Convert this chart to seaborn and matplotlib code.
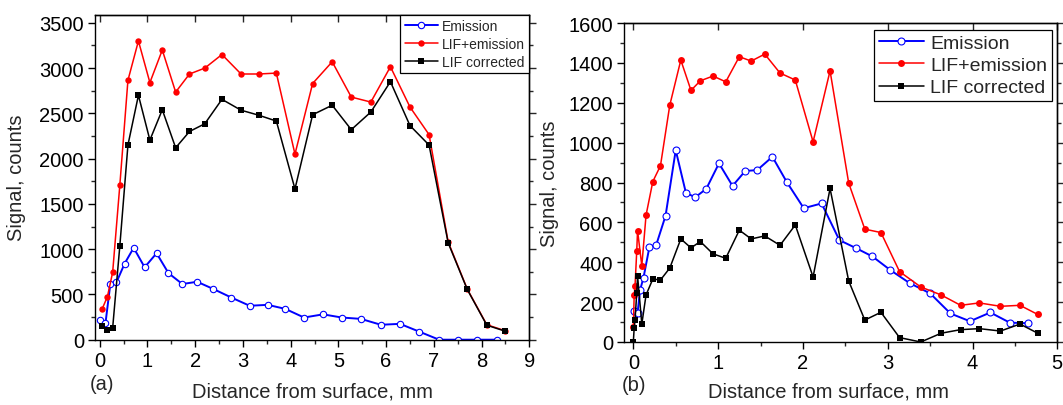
import seaborn as sns
import matplotlib.pyplot as plt
from matplotlib.ticker import MultipleLocator

# ---- panel (a) ----
x_a_lif = [0.05, 0.16, 0.27, 0.42, 0.59, 0.81, 1.05, 1.31, 1.59, 1.88, 2.20, 2.56, 2.96, 3.33,
           3.70, 4.09, 4.46, 4.87, 5.27, 5.68, 6.09, 6.50, 6.90, 7.30, 7.70, 8.11, 8.49]
lif_em_a = [340, 475, 745, 1705, 2865, 3300, 2840, 3200, 2735, 2935, 3000, 3150, 2935, 2935,
            2945, 2050, 2830, 3070, 2680, 2625, 3015, 2570, 2265, 1080, 560, 165, 100]
lif_cor_a = [155, 110, 130, 1035, 2150, 2700, 2205, 2540, 2120, 2300, 2385, 2655, 2535, 2480,
             2415, 1665, 2485, 2590, 2320, 2515, 2850, 2365, 2150, 1070, 555, 160, 95]
x_a_em = [0.01, 0.12, 0.22, 0.35, 0.52, 0.71, 0.94, 1.19, 1.44, 1.73, 2.04, 2.38, 2.76, 3.14,
          3.52, 3.89, 4.28, 4.68, 5.07, 5.47, 5.89, 6.29, 6.69, 7.11, 7.51, 7.91, 8.32]
em_a = [220, 185, 610, 635, 840, 1015, 800, 955, 735, 615, 640, 560, 465, 375,
        385, 340, 245, 280, 245, 230, 165, 175, 90, 0, 0, 0, 0]

# ---- panel (b) ----
x_b_lif = [0.00, 0.01, 0.02, 0.04, 0.05, 0.10, 0.15, 0.23, 0.32, 0.43, 0.56, 0.68, 0.79, 0.94,
           1.09, 1.25, 1.39, 1.55, 1.73, 1.91, 2.12, 2.32, 2.54, 2.73, 2.92, 3.14, 3.39, 3.63,
           3.86, 4.08, 4.33, 4.56, 4.77]
lif_em_b = [77, 234, 281, 454, 559, 382, 636, 805, 884, 1188, 1414, 1262, 1310, 1334,
            1305, 1431, 1409, 1444, 1349, 1314, 1004, 1360, 797, 566, 549, 353, 276, 236,
            184, 196, 179, 184, 138]
lif_cor_b = [0, 70, 110, 244, 331, 90, 236, 316, 311, 371, 517, 472, 504, 442,
             420, 561, 517, 532, 485, 587, 326, 770, 306, 110, 149, 22, 0, 44,
             62, 67, 55, 90, 44]
x_b_em = [0.01, 0.05, 0.08, 0.12, 0.19, 0.27, 0.38, 0.50, 0.62, 0.73, 0.86, 1.01, 1.17, 1.32,
          1.46, 1.64, 1.81, 2.01, 2.22, 2.43, 2.63, 2.82, 3.03, 3.26, 3.50, 3.74, 3.97, 4.21,
          4.44, 4.66]
em_b = [154, 147, 261, 323, 477, 487, 633, 962, 748, 726, 768, 896, 783, 858,
        862, 929, 802, 671, 695, 511, 470, 429, 361, 295, 244, 143, 104, 148,
        97, 94]

labels = ["Emission", "LIF+emission", "LIF corrected"]

sns.set_style("ticks")
plt.rcParams['font.family'] = ['Liberation Sans', 'DejaVu Sans']
plt.rcParams['axes.linewidth'] = 1.0

fig = plt.figure(figsize=(10.63, 4.06), dpi=100)
ax1 = fig.add_axes([95 / 1063, 65.3 / 406, 434.3 / 1063, 325 / 406])
ax2 = fig.add_axes([624 / 1063, 63 / 406, 433.3 / 1063, 319 / 406])


def draw(ax, xe, ye, xl, yl, yc, ms):
    sns.lineplot(x=xe, y=ye, ax=ax, color="#0000ff", lw=1.4, marker="o", ms=ms,
                 markerfacecolor="white", markeredgecolor="#0000ff", markeredgewidth=0.8,
                 estimator=None, sort=False, label=labels[0])
    sns.lineplot(x=xl, y=yl, ax=ax, color="#ff0000", lw=1.1, marker="o", ms=ms,
                 markeredgewidth=0, estimator=None, sort=False, label=labels[1])
    sns.lineplot(x=xl, y=yc, ax=ax, color="black", lw=1.1, marker="s", ms=ms - 0.3,
                 markeredgewidth=0, estimator=None, sort=False, label=labels[2])


draw(ax1, x_a_em, em_a, x_a_lif, lif_em_a, lif_cor_a, 4.6)
draw(ax2, x_b_em, em_b, x_b_lif, lif_em_b, lif_cor_b, 5.0)

ax1.set_xlim(-0.1, 9)
ax1.set_ylim(0, 3590)
ax1.xaxis.set_major_locator(MultipleLocator(1))
ax1.xaxis.set_minor_locator(MultipleLocator(0.5))
ax1.yaxis.set_major_locator(MultipleLocator(500))
ax1.yaxis.set_minor_locator(MultipleLocator(250))

ax2.set_xlim(-0.11, 5)
ax2.set_ylim(0, 1600)
ax2.xaxis.set_major_locator(MultipleLocator(1))
ax2.xaxis.set_minor_locator(MultipleLocator(0.5))
ax2.yaxis.set_major_locator(MultipleLocator(200))
ax2.yaxis.set_minor_locator(MultipleLocator(100))

for ax, ystep in [(ax1, 500), (ax2, 200)]:
    for s in ax.spines.values():
        s.set_visible(True)
        s.set_color("black")
    ax.tick_params(which="major", direction="out", length=5, width=1.0,
                   labelsize=14.5, colors="black", pad=3)
    ax.tick_params(which="minor", direction="out", length=3, width=1.0)
    top = ax.secondary_xaxis("top")
    top.xaxis.set_major_locator(MultipleLocator(1))
    top.tick_params(direction="in", length=5, width=1.0, labeltop=False)
    right = ax.secondary_yaxis("right")
    right.yaxis.set_major_locator(MultipleLocator(ystep))
    right.yaxis.set_minor_locator(MultipleLocator(ystep / 2))
    right.tick_params(which="major", direction="out", length=5, width=1.0, labelright=False)
    right.tick_params(which="minor", direction="out", length=3, width=1.0)
    ax.set_xlabel("Distance from surface, mm", fontsize=14.5, va="top")
    ax.set_ylabel("Signal, counts", fontsize=14.5)

ax1.xaxis.set_label_coords(0.501, -0.130)
ax1.yaxis.set_label_coords(-0.158, 0.5)
ax2.xaxis.set_label_coords(0.471, -0.125)
ax2.yaxis.set_label_coords(-0.150, 0.5)

leg_style = dict(loc="upper right", fancybox=False, framealpha=1, edgecolor="black",
                 borderaxespad=0)
l1 = ax1.legend(bbox_to_anchor=(1, 1), fontsize=10, handlelength=2.4, handletextpad=0.3,
                labelspacing=0.3, borderpad=0.3, **leg_style)
l2 = ax2.legend(bbox_to_anchor=(0.9885, 0.979), fontsize=14, handlelength=2.3,
                handletextpad=0.35, labelspacing=0.23, borderpad=0.25, **leg_style)
for leg in (l1, l2):
    leg.get_frame().set_linewidth(0.9)

fig.text(90 / 1063, 1 - 385 / 406, "(a)", fontsize=14.5, va="center", ha="left")
fig.text(622 / 1063, 1 - 386 / 406, "(b)", fontsize=14.5, va="center", ha="left")

fig.savefig("out.png", dpi=100)
